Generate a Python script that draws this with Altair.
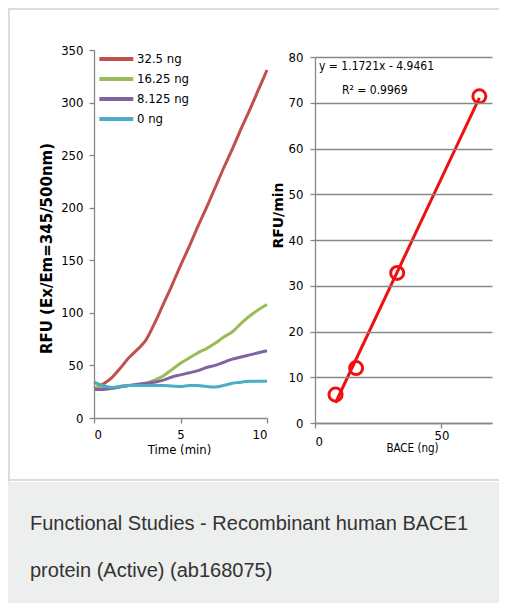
import altair as alt
import pandas as pd

# ---------------- data ----------------
time_min = [0, 0.5, 1, 1.5, 2, 2.5, 3, 3.5, 4, 4.5, 5, 5.5, 6, 6.5, 7, 7.5, 8, 8.5, 9, 9.5, 10]
rfu_325 = [28, 32, 38, 47, 57, 65, 74, 90, 108, 126, 145, 163, 182, 200, 219, 238, 256, 275, 293, 312, 331]
rfu_1625 = [29, 29, 29, 30, 31, 31.5, 33, 36, 40, 46, 52, 57, 62, 66, 71, 77, 82, 90, 97, 103, 108]
rfu_8125 = [27, 27, 28, 29.5, 31, 32, 33, 34, 36, 39, 41, 43, 45, 48, 50, 53, 56, 58, 60, 62, 64]
rfu_0 = [34, 31, 29, 30, 31, 31, 31, 31, 31, 30.5, 30, 31, 31, 30, 29.5, 31, 33, 34, 35, 35, 35]
series_names = ["32.5 ng", "16.25 ng", "8.125 ng", "0  ng"]
series_colors = ["#C0504D", "#9BBB59", "#8064A2", "#4BACC6"]

bace_ng = [8.125, 16.25, 32.5, 65]
rfu_per_min = [6.2, 12.0, 32.8, 71.4]

left_x_ticks = [0, 5, 10]
left_y_ticks = [0, 50, 100, 150, 200, 250, 300, 350]
right_x_ticks = [0, 50]
right_y_ticks = [0, 10, 20, 30, 40, 50, 60, 70, 80]

eq_text = ["y = 1.1721x - 4.9461", "R² = 0.9969"]
eq_x = [1.6, 10.7]
eq_y = [78.0, 72.7]

caption = "Functional Studies - Recombinant human BACE1\nprotein (Active) (ab168075)"

# ---------------- frames ----------------
rows = []
for name, vals in zip(series_names, [rfu_325, rfu_1625, rfu_8125, rfu_0]):
    for t, v in zip(time_min, vals):
        rows.append({"time": t, "rfu": v, "series": name})
left_df = pd.DataFrame(rows)
right_df = pd.DataFrame({"bace": bace_ng, "rate": rfu_per_min})
eq_df = pd.DataFrame({"ex": eq_x, "ey": eq_y, "txt": eq_text})
one = pd.DataFrame({"k": [0]})

NARROW = "Liberation Sans Narrow, DejaVu Sans Condensed, Arial Narrow, sans-serif"
GRAY = "#878787"

# ---------------- background ----------------
card = alt.Chart(one).mark_rect(fill="white", stroke="#dcdcdc", strokeWidth=2).encode(
    x=alt.value(1), x2=alt.value(540), y=alt.value(1), y2=alt.value(472)
)
caption_bg = alt.Chart(one).mark_rect(fill="#edeeee").encode(
    x=alt.value(0), x2=alt.value(540), y=alt.value(474), y2=alt.value(610)
)
caption_txt = alt.Chart(one).mark_text(
    align="left", baseline="alphabetic", font="Liberation Sans, Arial, sans-serif",
    fontSize=20, color="#333333", lineBreak="\n", lineHeight=47,
).encode(x=alt.value(22), y=alt.value(522), text=alt.value(caption))

# ---------------- left chart ----------------
lx = alt.X("time:Q",
           scale=alt.Scale(domain=[0, 10], range=[86, 259], nice=False, zero=False),
           axis=alt.Axis(orient="bottom", offset=-185, values=left_x_ticks, grid=False,
                         title="Time (min)", titleX=171, titleY=31, titleBaseline="middle",
                         titleFontSize=13, labelPadding=5, zindex=1))
ly = alt.Y("rfu:Q",
           scale=alt.Scale(domain=[0, 350], range=[410, 42], nice=False),
           axis=alt.Axis(orient="left", offset=-86, values=left_y_ticks, grid=False,
                         title="RFU (Ex/Em=345/500nm)", titleFont="DejaVu Sans",
                         titleFontWeight="bold", titleFontSize=15, titleAngle=270,
                         titleX=-48, titleY=240, titleBaseline="middle", titleAlign="center",
                         labelPadding=6, zindex=1))
left = alt.Chart(left_df).mark_line(strokeWidth=3, interpolate="monotone").encode(
    x=lx, y=ly,
    color=alt.Color("series:N", sort=series_names,
                    scale=alt.Scale(domain=series_names, range=series_colors),
                    legend=alt.Legend(orient="none", legendX=89, legendY=43, title=None,
                                      symbolType="M-1,0H5", symbolSize=128, symbolStrokeWidth=4,
                                      labelFont=NARROW, labelFontSize=13, labelColor="black",
                                      labelOffset=24, rowPadding=4, padding=0)),
    order=alt.Order("time:Q"),
)

# ---------------- right chart ----------------
rx_scale = alt.Scale(domain=[0, 70], range=[307, 484], nice=False, zero=False)
ry_scale = alt.Scale(domain=[0, 80], range=[415, 49], nice=False)
rx_axis = alt.Axis(orient="bottom", offset=-180, values=right_x_ticks, grid=False,
                   title="BACE (ng)", titleX=404, titleY=25, titleBaseline="middle",
                   titleFontSize=11.5, labelPadding=7, zindex=1,
                   labelBaseline={"condition": {"test": "datum.value == 50", "value": "middle"},
                                  "value": "top"})
ry_axis = alt.Axis(orient="left", offset=-307, values=right_y_ticks, grid=True,
                   gridColor=GRAY, gridWidth=1.3, zindex=1,
                   title="RFU/min", titleFont="DejaVu Sans", titleFontWeight="bold",
                   titleFontSize=14, titleAngle=270, titleX=-37, titleY=207,
                   titleBaseline="middle", titleAlign="center", labelPadding=7)

reg = alt.Chart(right_df).transform_regression("bace", "rate").mark_line(
    color="#ee1111", strokeWidth=3
).encode(x=alt.X("bace:Q", scale=rx_scale, axis=rx_axis),
         y=alt.Y("rate:Q", scale=ry_scale, axis=ry_axis))
pts = alt.Chart(right_df).mark_point(filled=False, color="#ee1111", size=170, strokeWidth=3,
                                     opacity=1).encode(
    x=alt.X("bace:Q", scale=rx_scale, axis=rx_axis),
    y=alt.Y("rate:Q", scale=ry_scale, axis=ry_axis))
ann = alt.Chart(eq_df).mark_text(align="left", baseline="middle", font=NARROW,
                                 fontSize=12, color="black").encode(
    x=alt.X("ex:Q", scale=rx_scale, axis=rx_axis),
    y=alt.Y("ey:Q", scale=ry_scale, axis=ry_axis),
    text="txt:N")
right = alt.layer(reg, pts, ann)

chart = alt.layer(card, caption_bg, caption_txt, left, right).resolve_scale(
    x="independent", y="independent"
).properties(
    width=491, height=595, padding=0,
    autosize=alt.AutoSizeParams(type="none"),
).configure_view(stroke=None).configure(background="white").configure_axis(
    labelFont=NARROW, labelFontSize=13, labelColor="black",
    titleFont=NARROW, titleFontSize=13, titleColor="black", titleFontWeight="normal",
    domainColor=GRAY, tickColor=GRAY, domainWidth=1.3, tickWidth=1.3, tickSize=5,
)

chart.save("out.html", embed_options={"renderer": "svg", "actions": False})
